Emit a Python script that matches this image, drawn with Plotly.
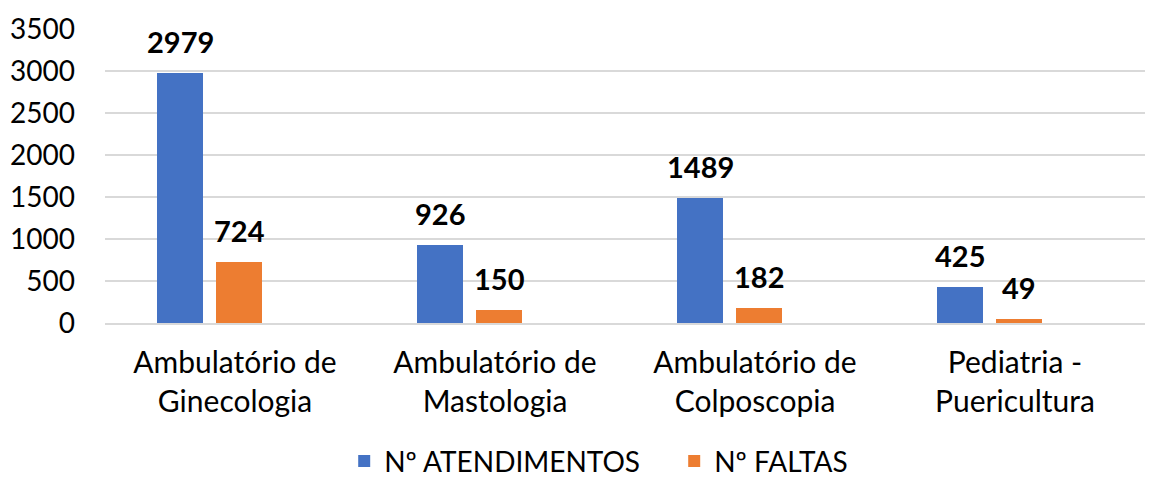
import plotly.graph_objects as go

categories = ["Ambulatório de<br>Ginecologia", "Ambulatório de<br>Mastologia",
              "Ambulatório de<br>Colposcopia", "Pediatria -<br>Puericultura"]
atendimentos = [2979, 926, 1489, 425]
faltas = [724, 150, 182, 49]
series_names = ["Nº ATENDIMENTOS", "Nº FALTAS"]
colors = ["#4472C4", "#ED7D31"]
y_ticks = [0, 500, 1000, 1500, 2000, 2500, 3000, 3500]

FONT = "Lato, Carlito, Calibri, sans-serif"
bar_w = 0.177
offsets = [-0.30, -0.073]

fig = go.Figure()
annotations = []
for name, vals, col, off in zip(series_names, [atendimentos, faltas], colors, offsets):
    fig.add_trace(go.Bar(
        x=categories, y=vals, name=name, marker_color=col,
        width=bar_w, offset=off, marker_line_width=0,
    ))
    shift_px = (off + bar_w / 2) * 260
    for c, v in zip(categories, vals):
        annotations.append(dict(
            x=c, y=v, xref="x", yref="y", text=f"<b>{v}</b>", showarrow=False,
            xshift=shift_px, yshift=12, yanchor="bottom",
            font=dict(family=FONT, size=29, color="#000000"),
        ))

# page body has an 8px default margin: figure starts at (8, 8) in the window
fig.update_layout(
    width=1158, height=470,
    margin=dict(l=97, r=21, t=21, b=155, autoexpand=False),
    paper_bgcolor="white", plot_bgcolor="white",
    font=dict(family=FONT, size=28, color="#000000"),
    annotations=annotations,
    showlegend=True,
    legend=dict(orientation="h", x=0.230, xanchor="left", xref="paper",
                y=-0.470, yanchor="middle", yref="paper",
                entrywidth=285, entrywidthmode="pixels",
                font=dict(family=FONT, size=28, color="#000000"), traceorder="normal"),
    bargap=0, barmode="overlay",
)
fig.update_yaxes(range=[0, 3500], tickvals=y_ticks, showgrid=True, gridcolor="#D9D9D9",
                 gridwidth=1.5, zeroline=False, showline=False, ticks="",
                 ticklabelstandoff=29, tickfont=dict(size=28), automargin=False)
fig.update_xaxes(range=[-0.5, 3.5], showgrid=False, showline=True, linecolor="#D9D9D9",
                 linewidth=1.5, ticks="", tickfont=dict(size=30), ticklabelstandoff=12,
                 automargin=False)

fig.write_html("out.html")
